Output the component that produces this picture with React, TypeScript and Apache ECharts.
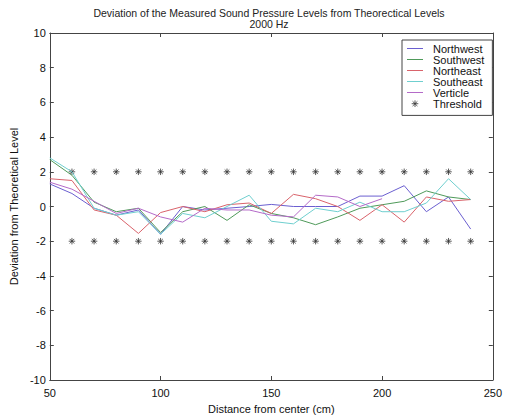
import React, { useEffect, useRef } from "react";
import * as echarts from "echarts";

const distances = [50, 60, 70, 80, 90, 100, 110, 120, 130, 140, 150, 160, 170, 180, 190, 200, 210, 220, 230, 240];
const northwest = [1.3, 0.75, -0.1, -0.5, -0.2, -1.6, 0.0, -0.2, -0.1, 0.0, 0.12, 0.0, 0.0, 0.0, 0.6, 0.6, 1.2, -0.3, 0.55, -1.3];
const southwest = [2.7, 1.8, 0.25, -0.3, -0.1, -1.5, -0.3, 0.0, -0.8, 0.1, -0.4, -0.65, -1.05, -0.6, -0.1, 0.1, 0.3, 0.9, 0.55, 0.4];
const northeast = [1.6, 1.5, -0.2, -0.5, -1.55, -0.35, 0.0, -0.3, 0.1, 0.2, -0.4, 0.7, 0.45, 0.0, -0.8, 0.1, -0.9, 0.55, 0.3, 0.4];
const southeast = [2.8, 2.0, -0.1, -0.5, -0.3, -1.6, -0.4, -0.65, 0.0, 0.65, -0.85, -1.0, -0.1, -0.3, 0.25, -0.3, -0.3, 0.2, 1.6, 0.4];
const verticle = [1.4, 1.0, 0.3, -0.4, -0.1, -0.6, -0.9, -0.1, -0.2, -0.2, -0.5, -0.6, 0.65, 0.55, 0.0, 0.45];
const thresholdX = [60, 70, 80, 90, 100, 110, 120, 130, 140, 150, 160, 170, 180, 190, 200, 210, 220, 230, 240];
const thresholdLevels = [2, -2];
const yTicks = [-10, -8, -6, -4, -2, 0, 2, 4, 6, 8, 10];
const seriesNames = ["Northwest", "Southwest", "Northeast", "Southeast", "Verticle", "Threshold"];
const titleLines = ["Deviation of the Measured Sound Pressure Levels from Theorectical Levels", "2000 Hz"];

const FONT = "Liberation Sans, Arial, sans-serif";
const ASTERISK = "path://M5 0L5 10M0 5L10 5M1.5 1.5L8.5 8.5M8.5 1.5L1.5 8.5";
const LEGEND_LINE = "path://M0 0H16V1H0Z";
const LEGEND_ASTERISK = "path://M0 0M10 10M5 1.8L5 8.2M1.8 5L8.2 5M2.7 2.7L7.3 7.3M7.3 2.7L2.7 7.3";

export default function App() {
  const ref = useRef<HTMLDivElement>(null);
  useEffect(() => {
    if (!ref.current) return;
    const chart = echarts.init(ref.current, undefined, { renderer: "svg" });
    const lineSeries = (name: string, vals: number[], color: string) => ({
      name,
      type: "line",
      data: vals.map((v, i) => [distances[i], v]),
      symbol: "none",
      lineStyle: { color, width: 1 },
      itemStyle: { color },
      xAxisIndex: 0,
      yAxisIndex: 0,
    });
    const thresholdData: number[][] = [];
    thresholdLevels.forEach((lv) => thresholdX.forEach((x) => thresholdData.push([x, lv])));
    const axisLine = { show: true, onZero: false, lineStyle: { color: "#444", width: 1 } };
    const tick = { show: true, inside: true, length: 4, lineStyle: { color: "#444" } };
    const titleStyle = { fontSize: 10.5, fontWeight: "normal", color: "#222", fontFamily: FONT };
    chart.setOption({
      animation: false,
      textStyle: { fontFamily: FONT },
      title: titleLines.map((t, i) => ({
        text: t,
        left: 269,
        top: 7 + i * 11,
        padding: 0,
        textAlign: "center",
        textStyle: titleStyle,
      })),
      legend: {
        orient: "vertical",
        left: 402,
        top: 40,
        width: 85,
        padding: [3, 8, 6, 5],
        itemGap: 0,
        itemWidth: 16,
        itemHeight: 10.4,
        backgroundColor: "#fff",
        borderColor: "#444",
        borderWidth: 1,
        textStyle: { fontSize: 11, color: "#111", fontFamily: FONT, padding: [0, 0, 0, 5] },
        data: seriesNames.map((n) =>
          n === "Threshold"
            ? {
                name: n,
                icon: LEGEND_ASTERISK,
                itemStyle: { color: "transparent", borderColor: "#333", borderWidth: 1 },
              }
            : { name: n, icon: LEGEND_LINE }
        ),
      },
      grid: { left: 47, right: 12, top: 33, bottom: 31 },
      xAxis: [
        {
          type: "value",
          min: 50,
          max: 250,
          interval: 50,
          name: "Distance from center (cm)",
          nameLocation: "middle",
          nameGap: 23,
          nameTextStyle: { fontSize: 11, color: "#111", fontFamily: FONT },
          axisLine,
          axisTick: tick,
          axisLabel: { fontSize: 11, color: "#111", margin: 7, fontFamily: FONT },
          splitLine: { show: false },
        },
        {
          type: "value",
          position: "top",
          min: 50,
          max: 250,
          interval: 50,
          axisLine,
          axisTick: tick,
          axisLabel: { show: false },
          splitLine: { show: false },
        },
      ],
      yAxis: [
        {
          type: "value",
          min: yTicks[0],
          max: yTicks[yTicks.length - 1],
          interval: 2,
          name: "Deviation from Theoretical Level",
          nameLocation: "middle",
          nameGap: 22,
          nameTextStyle: { fontSize: 11, color: "#111", fontFamily: FONT },
          axisLine,
          axisTick: tick,
          axisLabel: { fontSize: 11, color: "#111", margin: 4, fontFamily: FONT },
          splitLine: { show: false },
        },
        {
          type: "value",
          position: "right",
          min: yTicks[0],
          max: yTicks[yTicks.length - 1],
          interval: 2,
          axisLine,
          axisTick: tick,
          axisLabel: { show: false },
          splitLine: { show: false },
        },
      ],
      series: [
        lineSeries("Northwest", northwest, "#6b5fd0"),
        lineSeries("Southwest", southwest, "#4f9a5a"),
        lineSeries("Northeast", northeast, "#d9636b"),
        lineSeries("Southeast", southeast, "#6fcfcf"),
        lineSeries("Verticle", verticle, "#b46ac8"),
        {
          name: "Threshold",
          type: "scatter",
          data: thresholdData,
          symbol: ASTERISK,
          symbolSize: 6.5,
          itemStyle: { color: "transparent", borderColor: "#333", borderWidth: 1 },
          xAxisIndex: 0,
          yAxisIndex: 0,
        },
      ],
    });
    return () => chart.dispose();
  }, []);
  return <div ref={ref} style={{ width: 505, height: 419, position: "absolute", left: 0, top: 0, background: "#fff" }} />;
}
